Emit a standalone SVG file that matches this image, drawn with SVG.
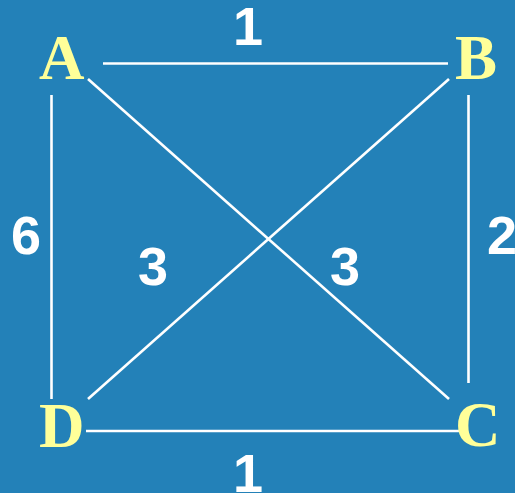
<svg xmlns="http://www.w3.org/2000/svg" width="515" height="493" viewBox="0 0 515 493">
<style>
.node{font-family:"Liberation Serif","Times New Roman",serif;font-weight:bold;font-size:63px;fill:#FFFF99}
.w{font-family:"Liberation Sans",Arial,sans-serif;font-weight:bold;font-size:54px;fill:#FFFFFF;text-anchor:middle}
.e{stroke:#FFFFFF;stroke-width:2.6;fill:none}
</style>
<rect width="515" height="493" fill="#2381B8"/>
<g id="connectors">
<line class="e" x1="103" y1="63.5" x2="448" y2="63.5"/>
<line class="e" x1="51.5" y1="95" x2="51.5" y2="399"/>
<line class="e" x1="468.5" y1="95" x2="468.5" y2="383"/>
<line class="e" x1="86" y1="431" x2="466" y2="431"/>
<line class="e" x1="88" y1="79" x2="449" y2="399"/>
<line class="e" x1="449" y1="79" x2="88" y2="399"/>
</g>
<g id="labels">
<text class="w" x="248" y="45">1</text>
<text class="w" x="26" y="254">6</text>
<text class="w" x="502" y="254">2</text>
<text class="w" x="153" y="285">3</text>
<text class="w" x="345" y="285">3</text>
<text class="w" x="248" y="492">1</text>
</g>
<g id="A"><text class="node" x="39" y="79">A</text></g>
<g id="B"><text class="node" x="455" y="79">B</text></g>
<g id="C"><text class="node" x="455" y="446">C</text></g>
<g id="D"><text class="node" x="39" y="447">D</text></g>
</svg>
